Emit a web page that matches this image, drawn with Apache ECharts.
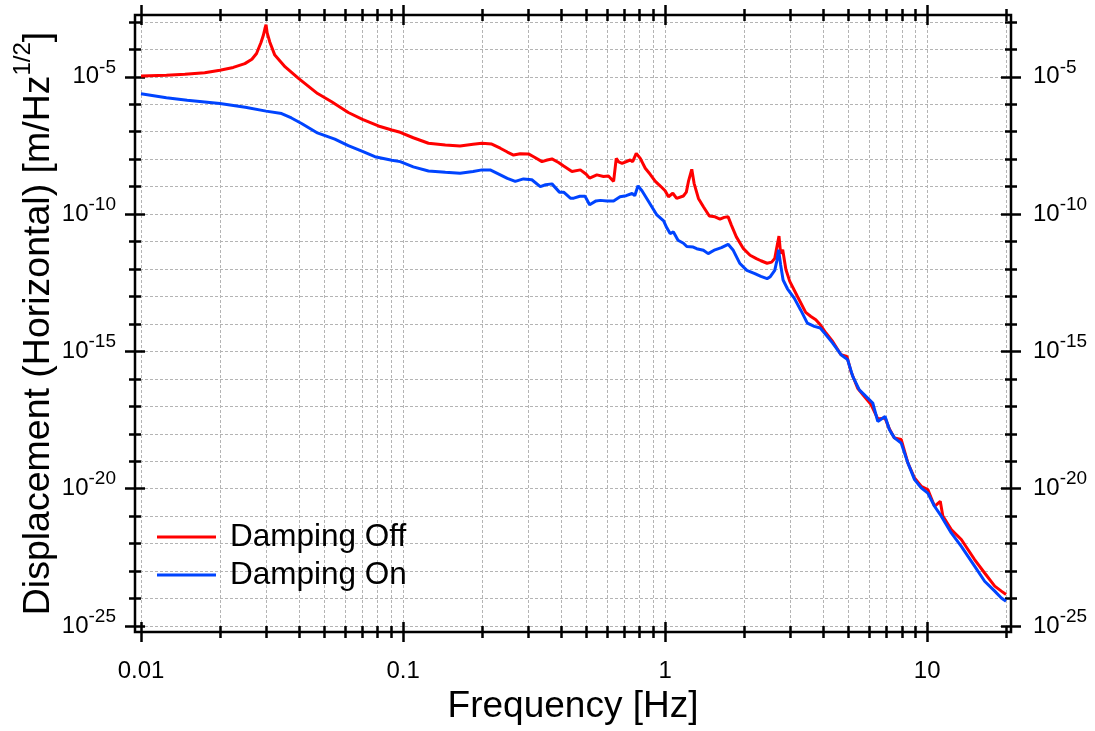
<!DOCTYPE html>
<html>
<head>
<meta charset="utf-8">
<title>Horizontal displacement spectrum</title>
<script src="https://cdn.jsdelivr.net/npm/echarts@6/dist/echarts.min.js"></script>
<style>
  html, body { margin: 0; padding: 0; background: #ffffff; }
  #chart { width: 1095px; height: 731px; }
</style>
</head>
<body>
<div id="chart"></div>
<script>
// Damping off: frequency [Hz] and displacement amplitude [m/Hz^1/2]
const offFreq = [0.010,0.0125,0.0147,0.0175,0.020,0.0225,0.0249,0.0265,0.0276,0.0287,0.0293,0.0297,0.0300,0.0303,0.0310,0.0324,0.0355,0.0399,0.0472,0.0534,0.0618,0.0700,0.0805,0.0906,0.0975,0.1094,0.125,0.145,0.165,0.185,0.200,0.218,0.235,0.250,0.264,0.280,0.301,0.315,0.339,0.355,0.370,0.392,0.410,0.441,0.475,0.500,0.515,0.549,0.582,0.608,0.636,0.651,0.665,0.685,0.736,0.752,0.776,0.804,0.840,0.877,0.916,0.959,1.000,1.03,1.07,1.107,1.174,1.205,1.227,1.264,1.29,1.34,1.40,1.475,1.55,1.62,1.68,1.74,1.79,1.87,1.99,2.11,2.23,2.32,2.45,2.55,2.62,2.67,2.72,2.76,2.81,2.89,2.99,3.20,3.44,3.60,3.76,3.91,4.11,4.36,4.69,4.94,5.12,5.43,5.76,6.11,6.48,6.91,7.18,7.50,7.96,8.44,8.95,9.49,10.06,10.67,11.22,11.48,12.36,13.5,15.17,16.57,18.11,19.19,20.0];
const offAmp = [1.07e-5,1.15e-5,1.23e-5,1.41e-5,1.74e-5,2.19e-5,3.02e-5,4.37e-5,7.08e-5,1.78e-4,3.24e-4,5.62e-4,7.94e-4,3.98e-4,1.86e-4,6.17e-5,2.29e-5,8.71e-6,2.45e-6,1.23e-6,5.01e-7,2.82e-7,1.62e-7,1.15e-7,9.55e-8,6.03e-8,3.80e-8,3.31e-8,3.02e-8,3.47e-8,3.80e-8,3.55e-8,2.51e-8,1.82e-8,1.41e-8,1.58e-8,1.55e-8,1.23e-8,8.13e-9,9.33e-9,1.02e-8,7.59e-9,5.62e-9,3.55e-9,4.07e-9,2.82e-9,2.04e-9,2.69e-9,2.34e-9,2.45e-9,1.55e-9,1.07e-8,7.94e-9,7.08e-9,9.33e-9,8.13e-9,1.62e-8,1.07e-8,4.68e-9,2.82e-9,1.58e-9,1.05e-9,7.08e-10,4.27e-10,5.75e-10,3.72e-10,4.57e-10,6.31e-10,1.51e-9,4.27e-9,1.32e-9,3.72e-10,1.86e-10,8.51e-11,7.94e-11,6.61e-11,7.59e-11,7.94e-11,3.98e-11,1.48e-11,5.50e-12,3.16e-12,2.40e-12,2.00e-12,1.62e-12,1.78e-12,2.40e-12,6.31e-12,1.58e-11,3.63e-12,5.01e-12,9.55e-13,3.55e-13,1.00e-13,2.63e-14,1.86e-14,1.41e-14,9.33e-15,4.68e-15,2.29e-15,7.59e-16,6.61e-16,1.86e-16,4.57e-17,2.29e-17,1.15e-17,3.47e-18,3.72e-18,1.48e-18,7.08e-19,6.17e-19,8.71e-20,2.45e-20,1.23e-20,9.33e-21,2.29e-21,3.47e-21,1.00e-21,3.24e-22,1.41e-22,2.63e-23,8.51e-24,2.82e-24,1.86e-24,1.41e-24];

// Damping on: frequency [Hz] and displacement amplitude [m/Hz^1/2]
const onFreq = [0.010,0.0125,0.015,0.020,0.025,0.030,0.0344,0.0375,0.041,0.0468,0.0549,0.0618,0.070,0.0781,0.0906,0.0975,0.1094,0.125,0.145,0.165,0.185,0.200,0.215,0.235,0.250,0.268,0.288,0.310,0.334,0.350,0.370,0.395,0.410,0.435,0.448,0.473,0.495,0.515,0.545,0.566,0.600,0.636,0.673,0.710,0.748,0.766,0.788,0.816,0.866,0.93,0.987,1.015,1.045,1.076,1.12,1.175,1.21,1.28,1.32,1.40,1.46,1.55,1.64,1.74,1.82,1.93,2.05,2.20,2.32,2.45,2.52,2.62,2.67,2.71,2.76,2.82,2.93,3.11,3.29,3.49,3.71,3.91,4.11,4.36,4.69,4.97,5.20,5.51,5.84,6.20,6.48,6.91,7.18,7.50,7.96,8.44,8.95,9.49,10.06,10.67,11.32,12.36,13.5,15.17,16.57,18.11,19.19,20.0];
const onAmp = [2.40e-6,1.74e-6,1.41e-6,1.07e-6,7.76e-7,5.62e-7,4.57e-7,3.16e-7,2.00e-7,9.33e-8,5.37e-8,3.09e-8,1.91e-8,1.23e-8,9.12e-9,8.13e-9,5.25e-9,3.72e-9,3.31e-9,3.09e-9,3.55e-9,4.07e-9,4.07e-9,2.69e-9,2.00e-9,1.55e-9,1.91e-9,1.78e-9,1.00e-9,1.17e-9,1.26e-9,6.31e-10,6.31e-10,3.80e-10,3.80e-10,4.47e-10,4.47e-10,2.19e-10,3.02e-10,3.16e-10,3.02e-10,3.02e-10,4.27e-10,4.68e-10,5.62e-10,4.68e-10,1.07e-9,7.08e-10,2.82e-10,9.33e-11,5.62e-11,3.16e-11,1.95e-11,2.24e-11,1.12e-11,8.71e-12,6.61e-12,6.31e-12,5.50e-12,4.79e-12,3.63e-12,5.01e-12,6.03e-12,7.94e-12,4.79e-12,1.58e-12,8.91e-13,6.76e-13,5.37e-13,4.47e-13,5.25e-13,8.91e-13,2.00e-12,5.01e-12,1.41e-12,3.98e-13,1.91e-13,8.71e-14,3.24e-14,1.07e-14,8.13e-15,7.08e-15,3.98e-15,2.00e-15,7.59e-16,5.01e-16,1.23e-16,3.98e-17,2.29e-17,1.32e-17,2.82e-18,4.27e-18,1.41e-18,7.08e-19,4.57e-19,8.71e-20,2.14e-20,1.07e-20,6.92e-21,2.29e-21,1.00e-21,2.45e-22,7.94e-23,1.51e-23,4.27e-24,1.86e-24,1.05e-24,7.94e-25];

// Tick positions
const xMajorTicks = [0.01, 0.1, 1, 10];
const xMinorTicks = [0.01,0.02,0.03,0.04,0.05,0.06,0.07,0.08,0.09,
                     0.1,0.2,0.3,0.4,0.5,0.6,0.7,0.8,0.9,
                     1,2,3,4,5,6,7,8,9,10,20];
const yMajorTicks = [1e-5, 1e-10, 1e-15, 1e-20, 1e-25];
const yMinorTicks = [1e-3,1e-4,1e-5,1e-6,1e-7,1e-8,1e-9,1e-10,1e-11,1e-12,1e-13,1e-14,
                     1e-15,1e-16,1e-17,1e-18,1e-19,1e-20,1e-21,1e-22,1e-23,1e-24,1e-25];

// Axis extents (frame stands slightly off the first/last ticks)
const X_MIN = 0.009486, X_MAX = 20.89;
const Y_MIN = 6.04e-26, Y_MAX = 1.78e-3;

const FONT = '"Liberation Sans", Arial, Helvetica, sans-serif';
const tickLine = { color: '#000', width: 2.5 };
const gridLine = { color: '#b4b4b4', width: 1, type: [3, 2] };

const expRich = {
  b: { fontSize: 24, lineHeight: 38, fontFamily: FONT, color: '#000' },
  e: { fontSize: 19, lineHeight: 19, fontFamily: FONT, color: '#000', verticalAlign: 'top' }
};
const expLabel = v => '{b|10}{e|' + Math.round(Math.log10(v)) + '}';

function baseAxis(type, extra) {
  const isX = type === 'x';
  return Object.assign({
    type: 'log',
    logBase: 10,
    min: isX ? X_MIN : Y_MIN,
    max: isX ? X_MAX : Y_MAX,
    axisLine: { show: false, onZero: false },
    axisTick: { show: false },
    axisLabel: { show: false },
    splitLine: { show: false },
    minorTick: { show: false },
    minorSplitLine: { show: false },
    axisPointer: { show: false }
  }, extra);
}
const majorTick = vals => ({ show: true, inside: false, length: 20, customValues: vals, lineStyle: tickLine });
const minorTick = vals => ({ show: true, inside: false, length: 12, customValues: vals, lineStyle: tickLine });

const series = [
  { name: 'Damping Off', freq: offFreq, amp: offAmp, color: '#ff0000' },
  { name: 'Damping On', freq: onFreq, amp: onAmp, color: '#0044ff' }
].map(s => ({
  name: s.name,
  type: 'line',
  xAxisIndex: 0,
  yAxisIndex: 0,
  data: s.freq.map((f, i) => [f, s.amp[i]]),
  symbol: 'none',
  showSymbol: false,
  smooth: false,
  lineStyle: { color: s.color, width: 3 },
  itemStyle: { color: s.color },
  emphasis: { disabled: true }
}));

const option = {
  backgroundColor: '#ffffff',
  animation: false,
  grid: {
    left: 135, top: 15, width: 876, height: 617,
    show: true, borderColor: '#000', borderWidth: 2.5,
    backgroundColor: 'transparent',
    containLabel: false,
    outerBoundsMode: 'none'
  },
  legend: {
    orient: 'vertical',
    left: 157,
    top: 521,
    padding: 0,
    icon: 'rect',
    itemWidth: 59,
    itemHeight: 3,
    itemGap: 6,
    data: ['Damping Off', 'Damping On'],
    textStyle: { fontSize: 31.5, lineHeight: 30, fontFamily: FONT, color: '#000', padding: [0, 0, 0, 9] },
    selectedMode: false
  },
  xAxis: [
    baseAxis('x', {
      position: 'bottom',
      axisLabel: {
        show: true, customValues: xMajorTicks, margin: 27,
        fontSize: 24, fontFamily: FONT, color: '#000',
        formatter: v => String(v)
      },
      name: 'Frequency [Hz]',
      nameLocation: 'middle',
      nameGap: 56,
      nameMoveOverlap: false,
      nameTextStyle: { fontSize: 37, lineHeight: 37, fontFamily: FONT, color: '#000' }
    }),
    baseAxis('x', { position: 'bottom', offset: -10, axisTick: majorTick(xMajorTicks) }),
    baseAxis('x', { position: 'bottom', offset: -6, axisTick: minorTick(xMinorTicks),
      splitLine: { show: true, lineStyle: gridLine } }),
    baseAxis('x', { position: 'top', offset: -10, axisTick: majorTick(xMajorTicks) }),
    baseAxis('x', { position: 'top', offset: -6, axisTick: minorTick(xMinorTicks) })
  ],
  yAxis: [
    baseAxis('y', {
      position: 'left',
      axisLabel: {
        show: true, customValues: yMajorTicks, margin: 19,
        formatter: expLabel, rich: expRich
      },
      name: '{n|Displacement (Horizontal) [m/Hz}{s|1/2}{n|]}',
      nameLocation: 'middle',
      nameGap: 68,
      nameMoveOverlap: false,
      nameTextStyle: {
        rich: {
          n: { fontSize: 37.5, lineHeight: 56, fontFamily: FONT, color: '#000' },
          s: { fontSize: 24, lineHeight: 24, fontFamily: FONT, color: '#000', verticalAlign: 'top' }
        }
      }
    }),
    baseAxis('y', { position: 'left', offset: -10, axisTick: majorTick(yMajorTicks) }),
    baseAxis('y', { position: 'left', offset: -6, axisTick: minorTick(yMinorTicks),
      splitLine: { show: true, lineStyle: gridLine } }),
    baseAxis('y', {
      position: 'right',
      axisLabel: {
        show: true, customValues: yMajorTicks, margin: 22,
        formatter: expLabel, rich: expRich
      }
    }),
    baseAxis('y', { position: 'right', offset: -10, axisTick: majorTick(yMajorTicks) }),
    baseAxis('y', { position: 'right', offset: -6, axisTick: minorTick(yMinorTicks) })
  ],
  series: series
};

const chart = echarts.init(document.getElementById('chart'), null, { renderer: 'canvas' });
chart.setOption(option);
</script>
</body>
</html>
